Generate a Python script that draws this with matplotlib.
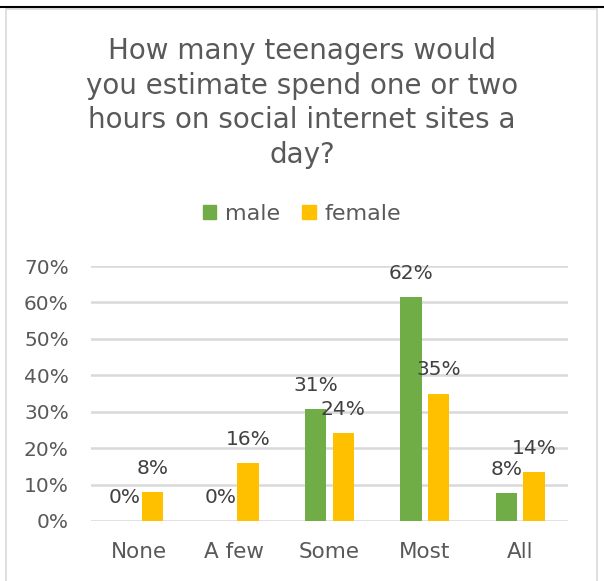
import matplotlib.pyplot as plt
import matplotlib.lines as mlines
import matplotlib.patches as mpatches
import numpy as np

categories = ['None', 'A few', 'Some', 'Most', 'All']
male = [0.0, 0.0, 0.308, 0.615, 0.077]
female = [0.08, 0.16, 0.242, 0.35, 0.135]
male_labels = ['0%', '0%', '31%', '62%', '8%']
female_labels = ['8%', '16%', '24%', '35%', '14%']
title = 'How many teenagers would\nyou estimate spend one or two\nhours on social internet sites a\nday?'

green = '#70AD47'
gold = '#FFC000'
txt = '#595959'
grid = '#D9D9D9'

plt.rcParams['font.family'] = ['DejaVu Sans']

fig = plt.figure(figsize=(6.04, 5.81), dpi=100)
ax = fig.add_axes([91/604, 1 - 521/581, 477/604, 255/581])

x = np.arange(len(categories))
w = 0.225
off = 0.145
b1 = ax.bar(x - off, male, w, color=green, zorder=3)
b2 = ax.bar(x + off, female, w, color=gold, zorder=3)

for bars, labs in ((b1, male_labels), (b2, female_labels)):
    for r, lab in zip(bars, labs):
        ax.annotate(lab, (r.get_x() + r.get_width() / 2, r.get_height()),
                    xytext=(0, 17), textcoords='offset points',
                    ha='center', va='center', fontsize=14.5, color='#404040')

ax.set_xlim(-0.5, len(categories) - 0.5)
ax.set_ylim(0, 0.7)
ax.set_yticks(np.arange(0, 0.71, 0.1))
ax.set_yticklabels([f'{int(round(v*100))}%' for v in np.arange(0, 0.71, 0.1)])
ax.set_xticks(x)
ax.set_xticklabels(categories, fontsize=15.5)
ax.tick_params(axis='both', length=0, labelcolor=txt)
ax.tick_params(axis='y', labelsize=14.5, pad=16)
ax.tick_params(axis='x', pad=15)
ax.grid(axis='y', color=grid, linewidth=1.8, zorder=0)
for s in ax.spines.values():
    s.set_visible(False)

fig.text(0.5, 1 - 103/581, title, ha='center', va='center', fontsize=20,
         color=txt, linespacing=1.3)

h1 = mpatches.Patch(color=green, label='male')
h2 = mpatches.Patch(color=gold, label='female')
fig.legend(handles=[h1, h2], loc='center', bbox_to_anchor=(0.5, 1 - 214/581),
           ncol=2, frameon=False, fontsize=16, labelcolor=txt,
           handlelength=0.6, handleheight=0.6, handletextpad=0.4, columnspacing=1.0)

# chart border and top rule
fig.add_artist(mpatches.Rectangle((6/604, -0.1), 591/604, 1.1 - 9/581,
                                  fill=False, edgecolor='#D9D9D9', linewidth=1.2,
                                  transform=fig.transFigure))
fig.add_artist(mlines.Line2D([0, 1], [1 - 7/581, 1 - 7/581], color='black',
                             linewidth=1.5, transform=fig.transFigure))

fig.savefig('out.png', dpi=100)
